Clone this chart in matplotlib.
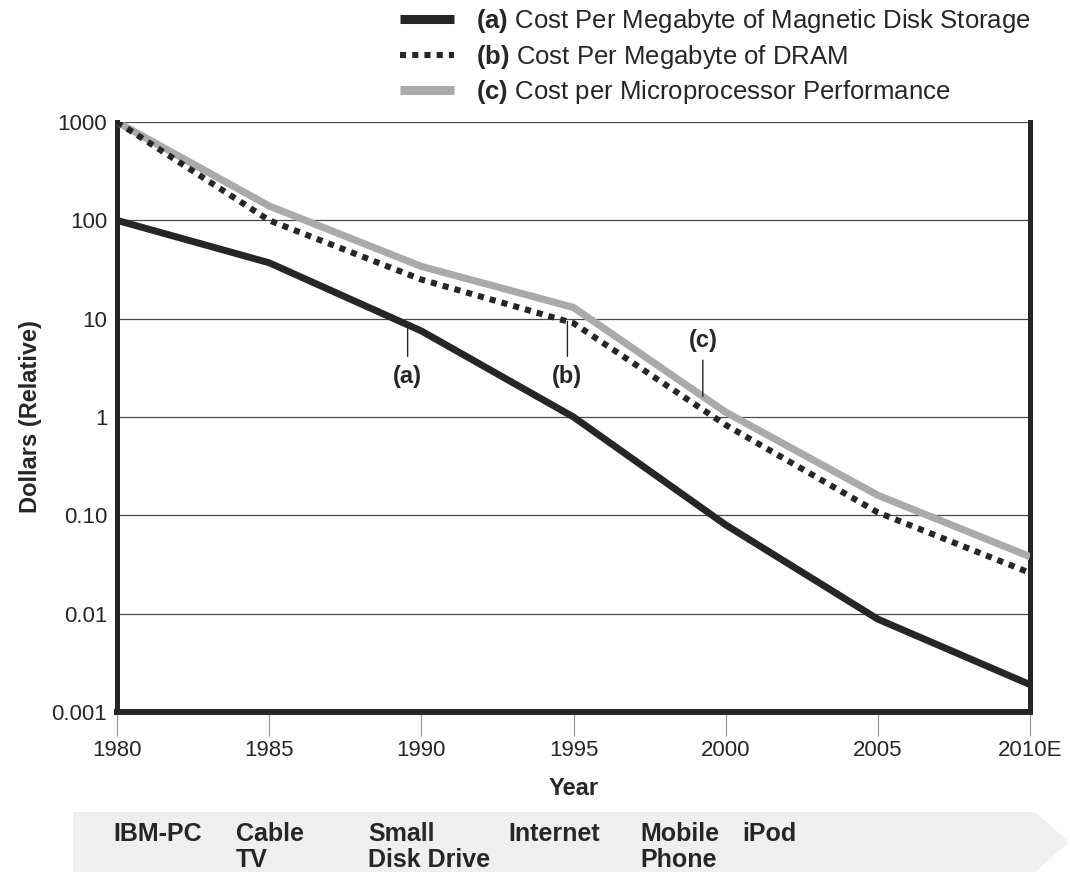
import numpy as np
import matplotlib
matplotlib.use("Agg")
import matplotlib.pyplot as plt
from matplotlib.lines import Line2D
from matplotlib.patches import Polygon
from matplotlib.ticker import FixedLocator, FixedFormatter, NullLocator

plt.rcParams["font.family"] = ["Liberation Sans", "DejaVu Sans"]
plt.rcParams["mathtext.fontset"] = "custom"
plt.rcParams["mathtext.rm"] = "Liberation Sans"
plt.rcParams["mathtext.bf"] = "Liberation Sans:bold"

INK = "#262626"
GREY_LINE = "#aaaaaa"

# relative cost, one value per year in each series
disk_years = [1980, 1985, 1990, 1995, 2000, 2005, 2010]
disk_cost = [100, 37, 7.5, 1.0, 0.08, 0.0088, 0.0019]

dram_years = [1980, 1985, 1990, 1995, 2000, 2005, 2010]
dram_cost = [1000, 100, 25, 9.0, 0.83, 0.107, 0.026]

cpu_years = [1980, 1985, 1990, 1995, 2000, 2005, 2010]
cpu_cost = [1000, 140, 34, 13, 1.12, 0.16, 0.038]

x_ticks = [1980, 1985, 1990, 1995, 2000, 2005, 2010]
x_labels = ["1980", "1985", "1990", "1995", "2000", "2005", "2010E"]
y_ticks = [0.001, 0.01, 0.1, 1, 10, 100, 1000]
y_labels = ["0.001", "0.01", "0.10", "1", "10", "100", "1000"]

legend_labels = [
    r"$\mathbf{(a)}$ Cost Per Megabyte of Magnetic Disk Storage",
    r"$\mathbf{(b)}$ Cost Per Megabyte of DRAM",
    r"$\mathbf{(c)}$ Cost per Microprocessor Performance",
]

# callout year, label height
callouts = [("(a)", 1989.55, 3.4), ("(b)", 1994.8, 3.4), ("(c)", 1999.25, 4.6)]

events = ["IBM-PC", "Cable\nTV", "Small\nDisk Drive", "Internet", "Mobile\nPhone", "iPod"]
event_x = [113, 236, 368, 508, 640, 742]  # pixel positions across the timeline band

W, H = 1070, 873
fig = plt.figure(figsize=(W / 100, H / 100), dpi=100)
ax = fig.add_axes([117 / W, 1 - 712 / H, (1030 - 117) / W, (712 - 122) / H])

ax.plot(cpu_years, cpu_cost, color=GREY_LINE, lw=5.2, solid_capstyle="butt", zorder=3)
ax.plot(dram_years, dram_cost, color=INK, lw=4.4, linestyle=(0, (1, 1)), zorder=4)
ax.plot(disk_years, disk_cost, color=INK, lw=5.0, solid_capstyle="butt", zorder=5)

ax.set_yscale("log")
ax.set_xlim(1980, 2010)
ax.set_ylim(0.001, 1000)

ax.yaxis.set_major_locator(FixedLocator(y_ticks))
ax.yaxis.set_major_formatter(FixedFormatter(y_labels))
ax.yaxis.set_minor_locator(NullLocator())
ax.xaxis.set_major_locator(FixedLocator(x_ticks))
ax.xaxis.set_major_formatter(FixedFormatter(x_labels))

ax.grid(axis="y", color="#4a4a4a", lw=0.9)
ax.set_axisbelow(True)
ax.tick_params(axis="y", length=0, pad=7, labelsize=16, labelcolor=INK)
ax.tick_params(axis="x", direction="out", length=17, width=0.9, color="#999999",
               pad=3, labelsize=16, labelcolor=INK)

ax.spines["top"].set_visible(False)
for side, w in [("left", 3.6), ("right", 3.6), ("bottom", 4.3)]:
    ax.spines[side].set_linewidth(w)
    ax.spines[side].set_color(INK)

ax.set_ylabel("Dollars (Relative)", fontsize=17, fontweight="bold", color=INK, labelpad=7)
ax.set_xlabel("Year", fontsize=17, fontweight="bold", color=INK, labelpad=12)

# callout leaders point at the series lines
series = {"(a)": (disk_years, disk_cost), "(b)": (dram_years, dram_cost), "(c)": (cpu_years, cpu_cost)}
for tag, yr, ylab in callouts:
    xs, ys = series[tag]
    y_on_line = 10 ** np.interp(yr, xs, np.log10(ys))
    above = ylab > y_on_line
    ax.annotate(tag, xy=(yr, y_on_line), xytext=(yr, ylab), ha="center",
                va="bottom" if above else "top", fontsize=17, fontweight="bold", color=INK,
                arrowprops=dict(arrowstyle="-", color=INK, lw=1.0, shrinkA=4, shrinkB=0),
                zorder=6)

handles = [
    Line2D([], [], color=INK, lw=6.5, solid_capstyle="butt"),
    Line2D([], [], color=INK, lw=4.4, linestyle=(0, (1, 1))),
    Line2D([], [], color=GREY_LINE, lw=6.5, solid_capstyle="butt"),
]
fig.legend(handles, legend_labels, loc="upper left", bbox_to_anchor=(400 / W, 1 - 7 / H),
           frameon=False, fontsize=18.5, handlelength=2.1, handletextpad=0.85,
           labelspacing=0.3, borderpad=0, borderaxespad=0, labelcolor=INK)

# timeline band along the bottom
band = Polygon([(73 / W, 1 - 812 / H), (1035 / W, 1 - 812 / H), (1 - 1 / W, 1 - 842 / H),
                (1035 / W, 1 - 872 / H), (73 / W, 1 - 872 / H)],
               closed=True, transform=fig.transFigure, facecolor="#efefef", edgecolor="none")
fig.patches.append(band)
for name, px in zip(events, event_x):
    for i, line in enumerate(name.split("\n")):
        fig.text(px / W, 1 - (841 + 26 * i) / H, line, fontsize=18, fontweight="bold",
                 color=INK, ha="left", va="baseline")

fig.savefig("out.png", dpi=100)
